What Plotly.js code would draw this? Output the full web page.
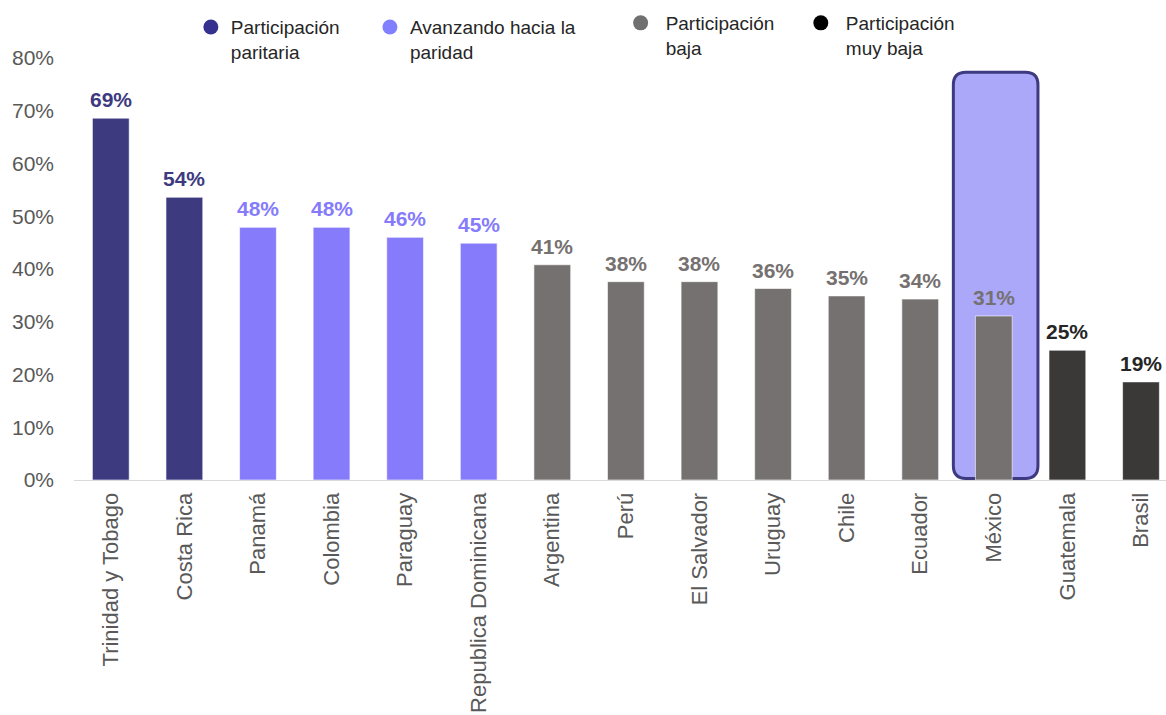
<!DOCTYPE html>
<html>
<head>
<meta charset="utf-8">
<script src="https://cdn.plot.ly/plotly-3.0.1.min.js"></script>
<style>html,body{margin:0;padding:0;background:#fff;}#chart{width:1166px;height:715px;}</style>
</head>
<body>
<div id="chart"></div>
<script>
// Categories in display order
const countries = ["Trinidad y Tobago","Costa Rica","Panamá","Colombia","Paraguay","Republica Dominicana","Argentina","Perú","El Salvador","Uruguay","Chile","Ecuador","México","Guatemala","Brasil"];
// Share (fraction) per country
const values = [0.686,0.536,0.479,0.479,0.46,0.449,0.408,0.376,0.376,0.363,0.349,0.343,0.311,0.246,0.186];
// Group of each country (index into groups)
const groupOf = [0,0,1,1,1,1,2,2,2,2,2,2,2,3,3];
const groups = ["Participación<br>paritaria","Avanzando hacia la<br>paridad","Participación<br>baja","Participación<br>muy baja"];
const barColors = ["#3D3A80","#857BFB","#767171","#3B3838"];
const labelColors = ["#3D3A80","#857BFB","#767171","#262626"];
const legendDotColors = ["#35318F","#8080FF","#707070","#000000"];
const highlight = "México";

const font = "Liberation Sans, Arial, sans-serif";
const traces = [];
groups.forEach((g, gi) => {
  const xs = [], ys = [];
  countries.forEach((c, i) => { if (groupOf[i] === gi) { xs.push(c); ys.push(values[i]); } });
  traces.push({
    type: "bar", x: xs, y: ys, showlegend: false,
    marker: {color: barColors[gi], line: {color: "rgba(255,255,255,0.6)", width: 1}},
    hoverinfo: "x+y"
  });
});
// legend entries (circle markers)
const legendIds = ["legend","legend2","legend3","legend4"];
groups.forEach((g, gi) => {
  traces.push({
    type: "scatter", mode: "markers", x: [null], y: [null], name: g,
    legend: legendIds[gi], showlegend: true,
    marker: {symbol: "circle", size: 15, color: legendDotColors[gi]}
  });
});

// value labels above bars
const annotations = countries.map((c, i) => ({
  x: c, y: values[i], xref: "x", yref: "y", text: Math.round(values[i] * 100) + "%",
  showarrow: false, yanchor: "bottom", yshift: 5,
  font: {family: font, size: 21, color: labelColors[groupOf[i]], weight: "bold"}
}));

// highlight box around México, in data units
const hi = countries.indexOf(highlight);
const x0 = hi - 0.55, x1 = hi + 0.6, y0 = 0.003, y1 = 0.773, rx = 0.17, ry = 0.024;
const path = `M ${x0+rx},${y0} L ${x1-rx},${y0} Q ${x1},${y0} ${x1},${y0+ry} L ${x1},${y1-ry} Q ${x1},${y1} ${x1-rx},${y1} L ${x0+rx},${y1} Q ${x0},${y1} ${x0},${y1-ry} L ${x0},${y0+ry} Q ${x0},${y0} ${x0+rx},${y0} Z`;

const legBase = {orientation: "v", bgcolor: "rgba(0,0,0,0)", font: {family: font, size: 19, color: "#262626"}, xanchor: "left", yanchor: "top", itemsizing: "trace", tracegroupgap: 0, valign: "top"};
const layout = {
  width: 1166, height: 715,
  margin: {l: 74, r: 0, t: 58, b: 235},
  paper_bgcolor: "#fff", plot_bgcolor: "#fff",
  barmode: "overlay", bargap: 0.5,
  font: {family: font},
  annotations: annotations,
  xaxis: {
    type: "category", categoryorder: "array", categoryarray: countries,
    range: [-0.5, 14.34], showline: true, linecolor: "#D9D9D9", linewidth: 1,
    showgrid: false, zeroline: false, ticks: "", tickangle: -90, ticklabelstandoff: 3,
    tickfont: {family: font, size: 22, color: "#595959"}, fixedrange: true
  },
  yaxis: {
    range: [0, 0.8], dtick: 0.1, tickformat: ".0%", showgrid: false, zeroline: false,
    showline: false, ticks: "", ticklabelstandoff: 19,
    tickfont: {family: font, size: 21, color: "#595959"}, fixedrange: true
  },
  shapes: [{type: "path", xref: "x", yref: "y", path: path, layer: "below",
    fillcolor: "#ABA8FA", line: {color: "#3D3A80", width: 3}}],
  legend: Object.assign({}, legBase, {x: 0.107, y: 1.118}),
  legend2: Object.assign({}, legBase, {x: 0.271, y: 1.118}),
  legend3: Object.assign({}, legBase, {x: 0.496, y: 1.128, itemwidth: 40}),
  legend4: Object.assign({}, legBase, {x: 0.661, y: 1.128, itemwidth: 40})
};
Plotly.newPlot("chart", traces, layout, {displayModeBar: false, responsive: false});
</script>
</body>
</html>
